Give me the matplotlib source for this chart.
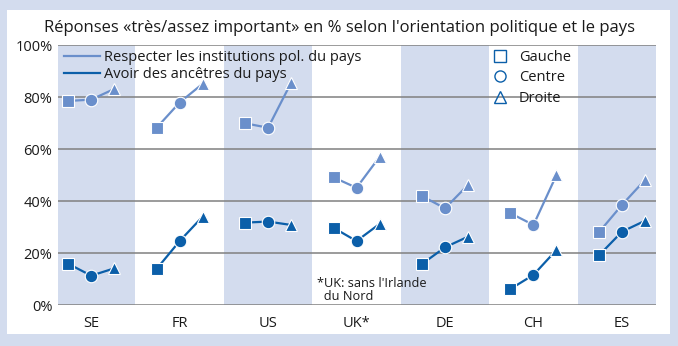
import matplotlib
matplotlib.use('Agg')
import matplotlib.pyplot as plt
from matplotlib.lines import Line2D
from matplotlib.patches import Rectangle

plt.rcParams['font.family'] = ['Open Sans', 'DejaVu Sans']

countries = ['SE', 'FR', 'US', 'UK*', 'DE', 'CH', 'ES']
orientations = ['Gauche', 'Centre', 'Droite']
markers = ['s', 'o', '^']

# Respecter les institutions pol. du pays (gauche, centre, droite)
institutions = [
    [78.6, 79.1, 83.2],
    [68.3, 78.0, 85.2],
    [70.0, 68.3, 85.6],
    [49.2, 45.2, 57.1],
    [42.0, 37.3, 46.3],
    [35.4, 30.9, 50.1],
    [28.1, 38.6, 48.2],
]
# Avoir des ancêtres du pays
ancetres = [
    [16.0, 11.4, 14.2],
    [14.0, 24.7, 34.1],
    [31.8, 32.2, 30.9],
    [29.8, 24.7, 31.3],
    [15.9, 22.3, 26.4],
    [6.3, 11.7, 21.3],
    [19.2, 28.3, 32.5],
]

light = '#6a8fcb'
dark = '#0b5fa9'
band = '#d3dcee'
txt = '#1a1a1a'

W, H = 678, 346
fig = plt.figure(figsize=(W / 100, H / 100), dpi=100)
fig.patch.set_facecolor(band)
fig.patches.append(Rectangle((7 / W, 12 / H), 663 / W, 324.5 / H, transform=fig.transFigure,
                             facecolor='white', edgecolor='none', zorder=-10))

ax = fig.add_axes([58 / W, 40.7 / H, 598 / W, 260 / H])
ax.set_facecolor('white')
ax.set_xlim(-0.375, 6.385)
ax.set_ylim(0, 100)

for i in range(0, len(countries), 2):
    ax.axvspan(i - 0.5, i + 0.5, color=band, lw=0, zorder=0)
for v in range(0, 101, 20):
    ax.axhline(v, color='#808080', lw=1.1, zorder=1)

off = [-0.26, 0.0, 0.26]
for series, col in [(institutions, light), (ancetres, dark)]:
    for i, vals in enumerate(series):
        xs = [i + o for o in off]
        ax.plot(xs, vals, color=col, lw=1.6, zorder=2)
        for x, y, m in zip(xs, vals, markers):
            ms = 8.5 if m != 'o' else 9
            ax.plot(x, y, marker=m, ms=ms, color=col, mec='white', mew=0.8, ls='none', zorder=3)

for s in ax.spines.values():
    s.set_visible(False)
ax.set_yticks(range(0, 101, 20))
ax.set_yticklabels([f'{v}%' for v in range(0, 101, 20)])
ax.set_xticks(range(len(countries)))
ax.set_xticklabels(countries)
ax.tick_params(length=0, labelsize=10.5, colors=txt)
ax.tick_params(axis='y', pad=4)
ax.tick_params(axis='x', pad=8)

fig.text(0.5, 1 - 28 / H, "Réponses «très/assez important» en % selon l'orientation politique et le pays",
         ha='center', va='center', fontsize=12, color=txt)

h1 = [Line2D([], [], color=light, lw=1.6), Line2D([], [], color=dark, lw=1.6)]
leg1 = ax.legend(h1, ['Respecter les institutions pol. du pays', 'Avoir des ancêtres du pays'],
                 loc='upper left', bbox_to_anchor=(6 / 598, 1 - 4.5 / 260), frameon=False, fontsize=10.5,
                 handlelength=2.45, handletextpad=0.28, labelspacing=0.15, borderpad=0, borderaxespad=0)
for t in leg1.get_texts():
    t.set_color(txt)
ax.add_artist(leg1)

h2 = [Line2D([], [], marker=m, ls='none', mfc='none', mec=dark, mew=1.0, ms=8) for m in markers]
leg2 = ax.legend(h2, orientations, loc='upper left', bbox_to_anchor=(434.7 / 598, 1 - 4.5 / 260),
                 frameon=False, fontsize=10.5, handlelength=1.0, handletextpad=0.8,
                 labelspacing=0.38, borderpad=0, borderaxespad=0)
for t in leg2.get_texts():
    t.set_color(txt)

ax.text(3 - 0.45, 0.8, "*UK: sans l'Irlande\n  du Nord", fontsize=9.2, color=txt,
        ha='left', va='bottom', linespacing=1.0)

fig.savefig('out.png', dpi=100, facecolor=fig.get_facecolor())
